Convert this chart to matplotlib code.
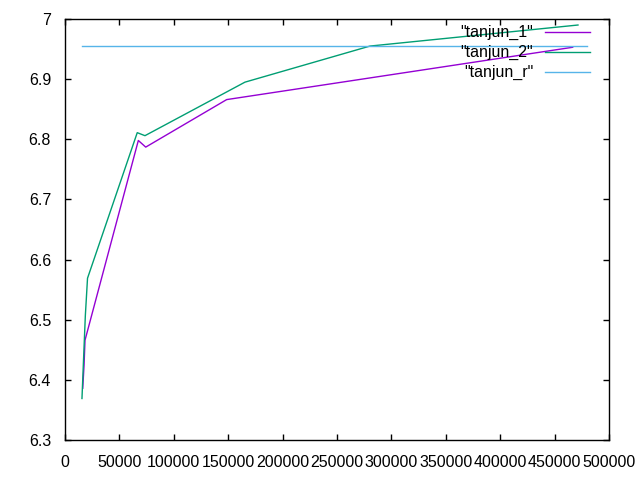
import matplotlib
matplotlib.use("Agg")
import matplotlib.pyplot as plt

plt.rcParams['font.family'] = ['Liberation Sans', 'DejaVu Sans']

# donnees
x_t1 = [16300, 17500, 18400, 67400, 74200, 148600, 466600]
y_t1 = [6.386, 6.424, 6.466, 6.798, 6.787, 6.866, 6.953]

x_t2 = [15600, 17000, 18700, 20700, 66400, 73500, 165400, 280300, 471500]
y_t2 = [6.369, 6.432, 6.507, 6.569, 6.811, 6.806, 6.895, 6.955, 6.990]

x_tr = [15600, 480000]
y_tr = [6.955, 6.955]

labels = ['"tanjun_1"', '"tanjun_2"', '"tanjun_r"']
couleurs = ['#9400d3', '#009e73', '#56b4e9']

fig = plt.figure(figsize=(6.4, 4.8), dpi=100)
ax = fig.add_axes([65/640, 40/480, 544/640, 421/480])

ax.plot(x_t1, y_t1, color=couleurs[0], lw=1, label=labels[0])
ax.plot(x_t2, y_t2, color=couleurs[1], lw=1, label=labels[1])
ax.plot(x_tr, y_tr, color=couleurs[2], lw=1, label=labels[2])

ax.set_xlim(0, 500000)
ax.set_ylim(6.3, 7.0)
ax.set_xticks(range(0, 500001, 50000))
ax.set_yticks([6.3, 6.4, 6.5, 6.6, 6.7, 6.8, 6.9, 7.0])
ax.set_yticklabels(['6.3', '6.4', '6.5', '6.6', '6.7', '6.8', '6.9', '7'])
ax.tick_params(direction='in', length=4, width=1, top=True, right=True,
               labelsize=11.5)
ax.tick_params(axis='y', pad=10)
ax.tick_params(axis='x', pad=11)
for s in ax.spines.values():
    s.set_linewidth(1)

leg = ax.legend(loc='upper right', bbox_to_anchor=(0.965, 0.985),
                frameon=False, markerfirst=False, fontsize=11.5,
                handlelength=2.8, labelspacing=0.3, borderpad=0,
                borderaxespad=0, handletextpad=0.75)

plt.savefig('out.png', dpi=100)
